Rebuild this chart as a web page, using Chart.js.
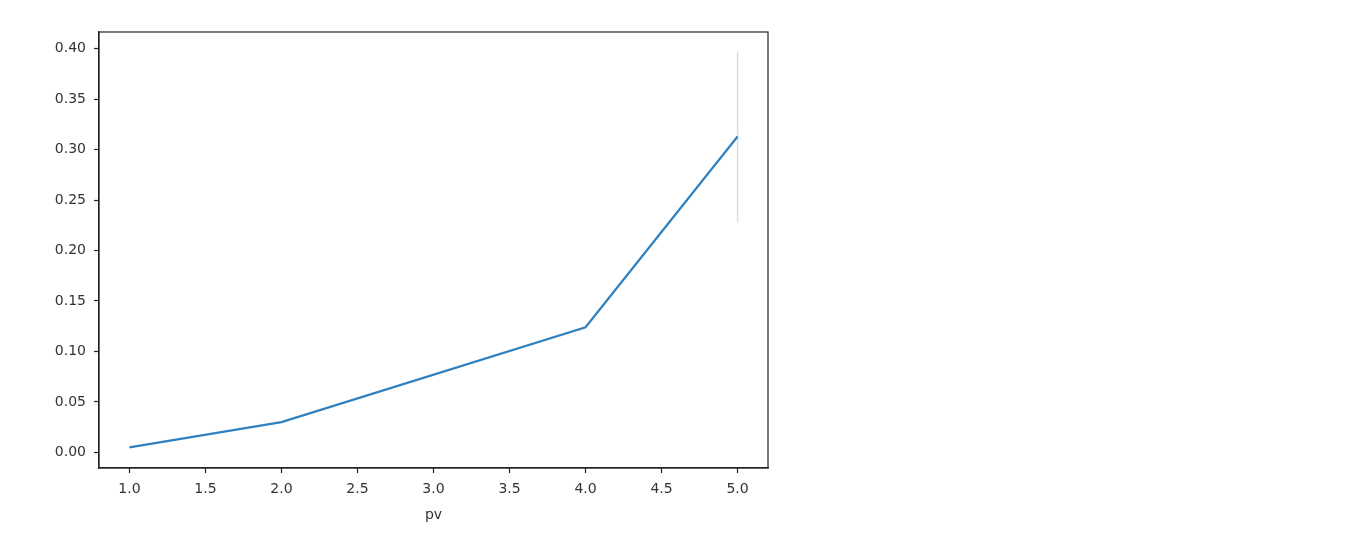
<!DOCTYPE html>
<html>
<head>
<meta charset="utf-8">
<script src="https://cdn.jsdelivr.net/npm/chart.js@4.4.1/dist/chart.umd.min.js"></script>
<style>
  html, body { margin: 0; padding: 0; background: #fff; }
  #wrap { width: 1358px; height: 537px; }
</style>
</head>
<body>
<div id="wrap"><canvas id="lineChart"></canvas></div>
<script>
// values
const pvValues = [1, 2, 4, 5];
const rateValues = [0.005, 0.030, 0.124, 0.313];
// confidence band at pv = 5 (only x with several observations)
const ciX = [5, 5];
const ciValues = [0.228, 0.397];

const xTicks = [1.0, 1.5, 2.0, 2.5, 3.0, 3.5, 4.0, 4.5, 5.0];
const yTicks = [0.00, 0.05, 0.10, 0.15, 0.20, 0.25, 0.30, 0.35, 0.40];

const tickFont = { family: 'DejaVu Sans', size: 14 };

// draws the top/right spines so the axes box is closed
const frame = {
    id: 'frame',
    afterDraw(chart) {
        const { ctx, chartArea: a } = chart;
        ctx.save();
        ctx.strokeStyle = '#222';
        ctx.lineWidth = 1.2;
        ctx.strokeRect(a.left, a.top, a.right - a.left, a.bottom - a.top);
        ctx.restore();
    }
};

new Chart(document.getElementById('lineChart'), {
    type: 'line',
    data: {
        datasets: [{
            label: 'rate',
            data: pvValues.map((x, i) => ({ x: x, y: rateValues[i] })),
            borderColor: '#2f80be',
            borderWidth: 2.2,
            pointRadius: 0,
            fill: false,
            tension: 0
        }, {
            label: 'ci',
            data: ciX.map((x, i) => ({ x: x, y: ciValues[i] })),
            borderColor: 'rgba(31,119,180,0.22)',
            borderWidth: 1.5,
            pointRadius: 0,
            fill: false
        }]
    },
    options: {
        responsive: true,
        maintainAspectRatio: false,
        animation: false,
        layout: { padding: { left: 0, top: 32, right: 590, bottom: 13 } },
        plugins: { legend: { display: false }, tooltip: { enabled: false } },
        scales: {
            x: {
                type: 'linear',
                min: 0.8,
                max: 5.2,
                afterBuildTicks: axis => { axis.ticks = xTicks.map(v => ({ value: v })); },
                afterFit: axis => { axis.height = 56; },
                ticks: {
                    font: tickFont,
                    color: '#333',
                    padding: 8,
                    maxRotation: 0,
                    callback: v => v.toFixed(1)
                },
                grid: { drawOnChartArea: false, tickLength: 5, tickColor: '#222', tickWidth: 1.2 },
                border: { color: '#222', width: 1.2 },
                title: { display: true, text: 'pv', font: tickFont, color: '#333', padding: 0 }
            },
            y: {
                type: 'linear',
                min: -0.0155,
                max: 0.4165,
                afterBuildTicks: axis => { axis.ticks = yTicks.map(v => ({ value: v })); },
                afterFit: axis => { axis.width = 99; },
                ticks: {
                    font: tickFont,
                    color: '#333',
                    padding: 8,
                    callback: v => v.toFixed(2)
                },
                grid: { drawOnChartArea: false, tickLength: 5, tickColor: '#222', tickWidth: 1.2 },
                border: { color: '#222', width: 1.2 }
            }
        }
    },
    plugins: [frame]
});
</script>
</body>
</html>
